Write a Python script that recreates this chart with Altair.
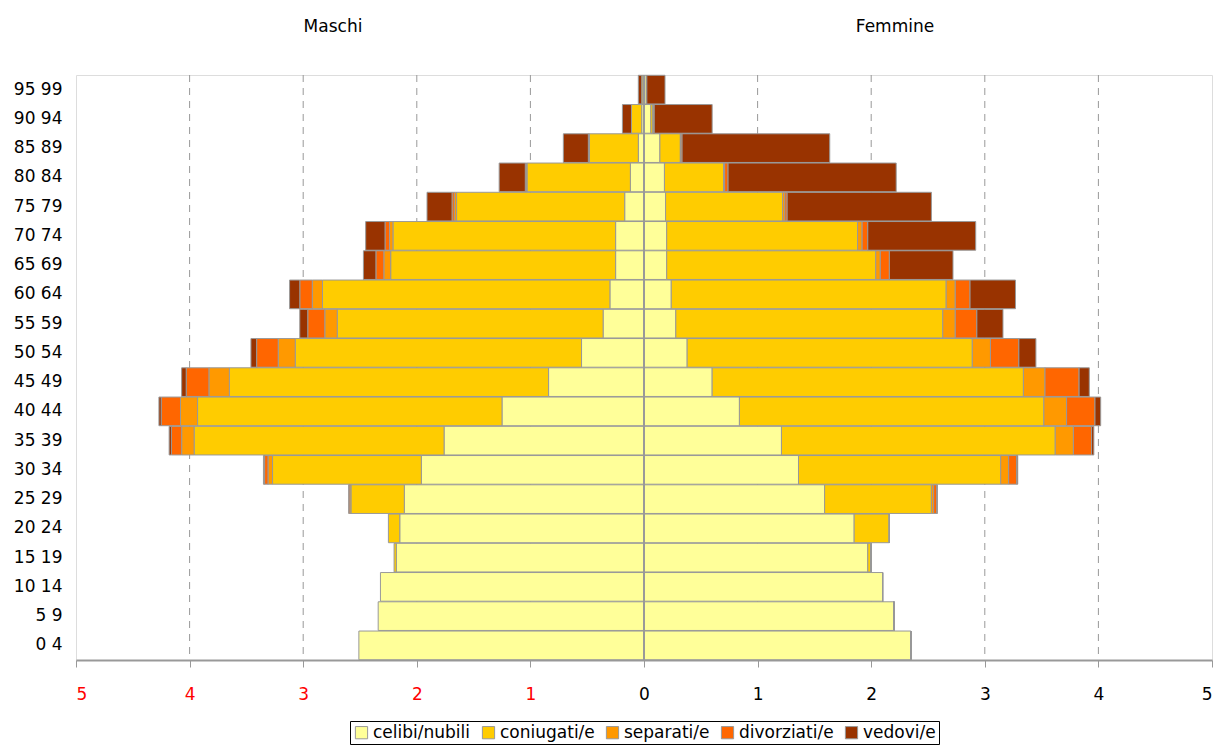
import altair as alt
import pandas as pd

age_groups = ["0 4", "5 9", "10 14", "15 19", "20 24", "25 29", "30 34", "35 39",
              "40 44", "45 49", "50 54", "55 59", "60 64", "65 69", "70 74",
              "75 79", "80 84", "85 89", "90 94", "95 99"]
statuses = ["celibi/nubili", "coniugati/e", "separati/e", "divorziati/e", "vedovi/e"]
colors = ["#FFFF99", "#FFCC00", "#FF9900", "#FF6600", "#993300"]

# Maschi (percent of population)
m_celibi     = [2.51, 2.34, 2.32, 2.18, 2.15, 2.11, 1.96, 1.76, 1.25, 0.84, 0.55, 0.36, 0.30, 0.25, 0.25, 0.17, 0.12, 0.05, 0.02, 0.01]
m_coniugati  = [0.00, 0.00, 0.00, 0.02, 0.10, 0.47, 1.31, 2.20, 2.68, 2.81, 2.52, 2.34, 2.53, 1.98, 1.96, 1.48, 0.91, 0.43, 0.09, 0.01]
m_separati   = [0.00, 0.00, 0.00, 0.00, 0.00, 0.01, 0.04, 0.11, 0.15, 0.18, 0.15, 0.11, 0.09, 0.06, 0.03, 0.02, 0.005, 0.005, 0.00, 0.00]
m_divorziati = [0.00, 0.00, 0.00, 0.00, 0.00, 0.01, 0.03, 0.09, 0.17, 0.20, 0.19, 0.15, 0.11, 0.07, 0.04, 0.02, 0.01, 0.005, 0.00, 0.00]
m_vedovi     = [0.00, 0.00, 0.00, 0.00, 0.00, 0.00, 0.01, 0.02, 0.02, 0.04, 0.05, 0.07, 0.09, 0.11, 0.17, 0.22, 0.23, 0.22, 0.08, 0.03]

# Femmine (percent of population)
f_celibi     = [2.35, 2.20, 2.10, 1.97, 1.85, 1.59, 1.36, 1.21, 0.84, 0.60, 0.38, 0.28, 0.24, 0.20, 0.20, 0.19, 0.18, 0.14, 0.06, 0.02]
f_coniugati  = [0.00, 0.00, 0.00, 0.03, 0.31, 0.94, 1.78, 2.41, 2.68, 2.74, 2.51, 2.35, 2.42, 1.84, 1.68, 1.03, 0.52, 0.18, 0.02, 0.005]
f_separati   = [0.00, 0.00, 0.00, 0.00, 0.00, 0.02, 0.07, 0.16, 0.20, 0.19, 0.16, 0.11, 0.08, 0.04, 0.04, 0.02, 0.01, 0.005, 0.005, 0.00]
f_divorziati = [0.00, 0.00, 0.00, 0.00, 0.00, 0.03, 0.07, 0.16, 0.25, 0.30, 0.25, 0.19, 0.13, 0.08, 0.05, 0.02, 0.03, 0.01, 0.005, 0.00]
f_vedovi     = [0.00, 0.00, 0.00, 0.00, 0.00, 0.00, 0.01, 0.02, 0.05, 0.09, 0.15, 0.23, 0.40, 0.56, 0.95, 1.27, 1.48, 1.30, 0.51, 0.16]

x_ticks = [-5, -4, -3, -2, -1, 0, 1, 2, 3, 4, 5]
grid_vals = [-4, -3, -2, -1, 1, 2, 3, 4]
side_titles = ["Maschi", "Femmine"]

FONT = "DejaVu Sans"

male_series = [m_celibi, m_coniugati, m_separati, m_divorziati, m_vedovi]
female_series = [f_celibi, f_coniugati, f_separati, f_divorziati, f_vedovi]

rows = []
for si, status in enumerate(statuses):
    for ai, age in enumerate(age_groups):
        rows.append({"eta": age, "stato": status, "ordine": si, "sesso": "M",
                     "valore": -male_series[si][ai]})
        rows.append({"eta": age, "stato": status, "ordine": si, "sesso": "F",
                     "valore": female_series[si][ai]})
df = pd.DataFrame(rows)

x_scale = alt.Scale(domain=[-5, 5], nice=False, zero=False)
y_sort = list(reversed(age_groups))

bars = alt.Chart(df).mark_bar(stroke="#999999", strokeWidth=1).encode(
    y=alt.Y("eta:N", sort=y_sort,
            scale=alt.Scale(paddingInner=0.02, paddingOuter=0.01),
            axis=alt.Axis(title=None, ticks=False, domain=False, labelFont=FONT,
                          labelFontSize=17, labelColor="black", labelPadding=14)),
    x=alt.X("valore:Q", stack="zero", scale=x_scale,
            axis=alt.Axis(title=None, values=x_ticks, grid=False,
                          labelExpr="abs(datum.value)",
                          labelColor={"condition": {"test": "datum.value < 0", "value": "#FF0000"}, "value": "black"},
                          labelFont=FONT, labelFontSize=17, labelPadding=19,
                          tickSize=7, tickColor="#999999", domainColor="#999999",
                          domainWidth=2)),
    color=alt.Color("stato:N",
                    scale=alt.Scale(domain=statuses, range=colors),
                    legend=alt.Legend(title=None, orient="none", direction="horizontal",
                                      columns=5, legendX=274, legendY=646,
                                      symbolType="square", symbolSize=150,
                                      symbolStrokeColor="#999999", symbolStrokeWidth=1,
                                      labelFont=FONT, labelFontSize=17, labelColor="black",
                                      columnPadding=9, symbolOffset=0, labelOffset=3,
                                      strokeColor="black", padding=3)),
    order=alt.Order("ordine:Q"),
)

grid_df = pd.DataFrame({"g": grid_vals})
grid = alt.Chart(grid_df).mark_rule(color="#999999", strokeDash=[7, 6], strokeWidth=1).encode(
    x=alt.X("g:Q", scale=x_scale)
)

zero_df = pd.DataFrame({"z": [0]})
zero_line = alt.Chart(zero_df).mark_rule(color="#999999", strokeWidth=2).encode(
    x=alt.X("z:Q", scale=x_scale)
)

titles_df = pd.DataFrame({"t": side_titles, "px": [257, 819]})
titles = alt.Chart(titles_df).mark_text(font=FONT, fontSize=17, color="black",
                                        baseline="middle", align="center").encode(
    text="t:N",
    x=alt.X("px:Q", scale=None),
    y=alt.value(-48),
)

chart = alt.layer(grid, bars, zero_line, titles).properties(
    width=1136, height=585,
    autosize=alt.AutoSizeParams(type="none"),
    padding={"left": 68, "top": 67, "right": 6, "bottom": 85},
).configure_view(stroke="#999999", strokeWidth=2).configure(background="white")

chart.save("out.html", embed_options={"renderer": "svg", "actions": False})
